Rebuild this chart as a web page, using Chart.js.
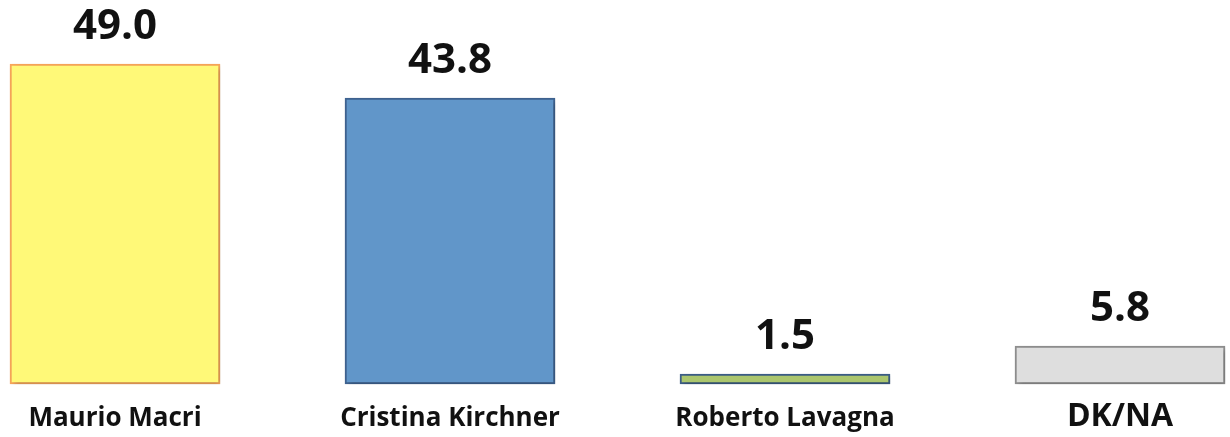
<!DOCTYPE html>
<html>
<head>
<meta charset="utf-8">
<script src="https://cdn.jsdelivr.net/npm/chart.js@4/dist/chart.umd.min.js"></script>
<style>
  html, body { margin: 0; padding: 0; background: #fff; }
  #wrap { width: 1230px; height: 437px; position: relative; }
</style>
</head>
<body>
<div id="wrap"><canvas id="pollChart"></canvas></div>
<script>
  // Poll results
  const candidates = ['Maurio Macri', 'Cristina Kirchner', 'Roberto Lavagna', 'DK/NA'];
  const shares = [49.0, 43.8, 1.5, 5.8];
  const fillColors = ['#FFF978', '#6196C9', '#ABC66E', '#DEDEDE'];
  const edgeColors = ['#F9A65A', '#3F6391', '#3D5F8A', '#8F8F8F'];
  const labelSizes = [26, 26, 26, 32];

  // Soft drop shadow under the bars
  const barShadow = {
    id: 'barShadow',
    beforeDatasetDraw(chart) {
      const ctx = chart.ctx;
      ctx.save();
      ctx.shadowColor = 'rgba(0,0,0,0.28)';
      ctx.shadowBlur = 5;
      ctx.shadowOffsetX = 2;
      ctx.shadowOffsetY = 2;
    },
    afterDatasetDraw(chart) {
      chart.ctx.restore();
    }
  };

  // Value above each bar and candidate name below it
  const barTexts = {
    id: 'barTexts',
    afterDatasetsDraw(chart) {
      const ctx = chart.ctx;
      const meta = chart.getDatasetMeta(0);
      const base = chart.scales.y.getPixelForValue(0);
      ctx.save();
      ctx.fillStyle = '#111';
      ctx.textAlign = 'center';
      ctx.textBaseline = 'alphabetic';
      meta.data.forEach((bar, i) => {
        ctx.font = 'bold 42px "Open Sans", sans-serif';
        ctx.fillText(shares[i].toFixed(1), bar.x, bar.y - 25);
        ctx.font = 'bold ' + labelSizes[i] + 'px "Open Sans", sans-serif';
        ctx.fillText(candidates[i], bar.x, base + 42);
      });
      ctx.restore();
    }
  };

  new Chart(document.getElementById('pollChart'), {
    type: 'bar',
    data: {
      labels: candidates,
      datasets: [{
        data: shares,
        backgroundColor: fillColors,
        borderColor: edgeColors,
        borderWidth: 2,
        borderSkipped: false,
        barThickness: 210,
        clip: false
      }]
    },
    options: {
      responsive: true,
      maintainAspectRatio: false,
      animation: false,
      layout: { padding: { left: 115, right: 110, top: 64, bottom: 53 } },
      scales: {
        x: {
          display: false,
          offset: false
        },
        y: {
          display: false,
          min: 0,
          max: 49
        }
      },
      plugins: {
        legend: { display: false },
        tooltip: { enabled: false }
      }
    },
    plugins: [barShadow, barTexts]
  });
</script>
</body>
</html>
